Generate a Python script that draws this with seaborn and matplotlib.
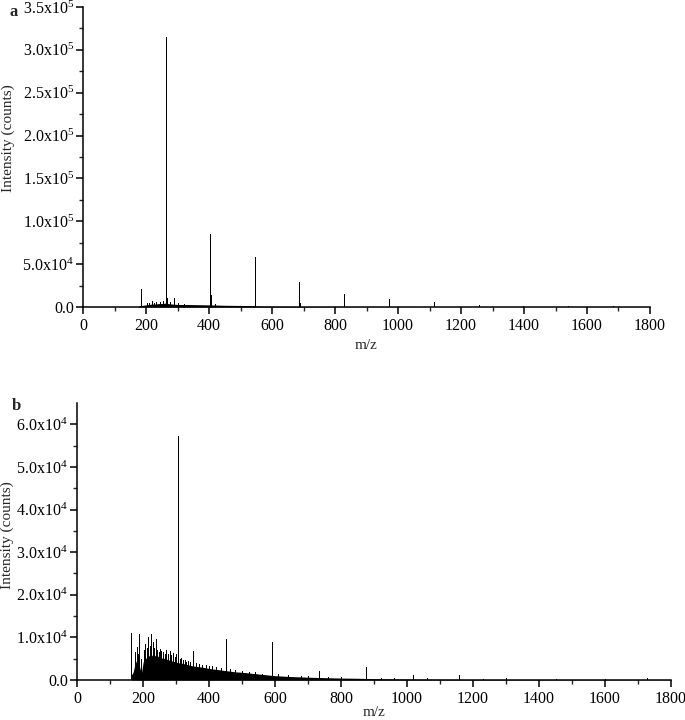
import numpy as np
import pandas as pd
import matplotlib
matplotlib.use("Agg")
import matplotlib.pyplot as plt
import seaborn as sns

# ---------------- data: panel a ----------------
a_peak_mz = [183, 202, 210, 218, 226, 233, 245, 253, 262, 264, 268, 275, 289, 300, 320,
             403, 405, 420, 545, 547, 687, 689, 830, 971, 1113, 1256, 1398, 1540, 1683]
a_peak_int = [21000, 5000, 4500, 6500, 5000, 5500, 6000, 7000, 315000, 33000, 10000, 6000, 11000, 4500, 4000,
              85000, 14000, 4000, 58000, 40000, 29500, 5000, 15500, 9000, 5500, 2500, 1500, 1200, 800]
a_env_mz = [175, 180, 190, 200, 210, 220, 230, 240, 250, 260, 270, 280, 300, 350, 400, 450, 500,
            540, 560, 600, 700, 800, 900, 1000, 1200, 1800]
a_env_int = [500, 1500, 2000, 2500, 3000, 3500, 3500, 4000, 4000, 4500, 4000, 3500, 3000, 2800, 2500,
             2000, 1800, 1500, 1000, 800, 500, 300, 200, 100, 50, 30]
a_yticks = [0, 50000, 100000, 150000, 200000, 250000, 300000, 350000]
a_ylabels = ["0.0", "5.0x10$^{4}$", "1.0x10$^{5}$", "1.5x10$^{5}$", "2.0x10$^{5}$",
             "2.5x10$^{5}$", "3.0x10$^{5}$", "3.5x10$^{5}$"]

# ---------------- data: panel b ----------------
b_peak_mz = [165, 177, 181, 184, 189, 193, 203, 207, 212, 216, 220, 225, 229, 233, 238, 242, 247,
             251, 256, 261, 266, 271, 276, 281, 286, 291, 296, 301, 307, 311, 316, 321, 326, 331,
             336, 341, 352, 360, 370, 380, 390, 400, 410, 420, 435, 450, 465, 480, 500, 520, 540,
             560, 591, 610, 640, 680, 700, 732, 760, 800, 876, 920, 960, 1017, 1060, 1158, 1230,
             1300, 1450, 1600, 1728]
b_peak_int = [11000, 6500, 7800, 6000, 10700, 5000, 7000, 8500, 7500, 10000, 8000, 10800, 9000, 7500,
              9600, 7000, 6500, 7200, 6800, 6500, 6000, 7000, 6200, 6800, 5800, 6300, 5500, 6000,
              57200, 5000, 5200, 4600, 4800, 4300, 4500, 4100, 6800, 4000, 3800, 3600, 3500, 3200,
              3300, 3000, 2900, 9600, 2500, 2300, 2100, 1900, 1800, 1500, 9000, 1300, 1100, 900,
              900, 2000, 700, 600, 3000, 500, 400, 1200, 400, 1200, 300, 400, 300, 250, 400]
b_env_mz = [165, 170, 175, 180, 185, 190, 195, 200, 205, 210, 215, 220, 225, 230, 235, 240, 245,
            250, 255, 260, 265, 270, 275, 280, 290, 300, 310, 320, 330, 340, 350, 360, 380, 400,
            420, 440, 460, 480, 500, 525, 550, 575, 600, 625, 650, 700, 750, 800, 850, 900, 950,
            1000, 1100, 1200, 1400, 1600, 1800]
b_env_int = [1200, 1800, 3500, 4500, 5000, 3000, 1500, 4000, 5500, 5000, 6000, 5500, 6000, 5500, 5800,
             5500, 5600, 5200, 5300, 5000, 5100, 4800, 4900, 4600, 4400, 4200, 4000, 3900, 3700,
             3500, 3300, 3200, 3000, 2700, 2500, 2300, 2100, 1900, 1800, 1600, 1400, 1200, 1000,
             900, 800, 650, 550, 450, 400, 300, 250, 200, 150, 120, 100, 80, 60]
b_yticks = [0, 10000, 20000, 30000, 40000, 50000, 60000]
b_ylabels = ["0.0", "1.0x10$^{4}$", "2.0x10$^{4}$", "3.0x10$^{4}$", "4.0x10$^{4}$",
             "5.0x10$^{4}$", "6.0x10$^{4}$"]

x_ticks = [0, 200, 400, 600, 800, 1000, 1200, 1400, 1600, 1800]

# ---------------- style ----------------
sns.set_theme(style="ticks")
plt.rcParams["font.family"] = ["Liberation Serif", "DejaVu Serif"]
plt.rcParams["mathtext.default"] = "regular"
plt.rcParams["axes.linewidth"] = 1.1


def sticks(mz, inten):
    xs, ys = [], []
    for m, h in sorted(zip(mz, inten)):
        xs += [m, m, m]
        ys += [0, h, 0]
    return pd.DataFrame({"mz": xs, "int": ys})


def draw(ax, pk_mz, pk_int, env_mz, env_int, yticks, ylabels, ytop, yminor, xlab_y, ylab_xy):
    ax.fill_between(env_mz, env_int, 0, color="black", lw=0)
    df = sticks(pk_mz, pk_int)
    sns.lineplot(data=df, x="mz", y="int", sort=False, estimator=None,
                 color="black", lw=0.7, ax=ax)
    ax.set_xlim(0, 1800)
    ax.set_ylim(0, ytop)
    ax.set_xticks(x_ticks)
    ax.set_xticklabels([str(t) for t in x_ticks])
    ax.set_xticks(np.arange(100, 1800, 200), minor=True)
    ax.set_yticks(yticks)
    ax.set_yticklabels(ylabels)
    ax.set_yticks(yminor, minor=True)
    ax.tick_params(axis="both", which="major", direction="out", length=5, width=1.1,
                   labelsize=11.5, colors="black", pad=3)
    ax.tick_params(axis="y", which="major", pad=1.5)
    ax.tick_params(axis="both", which="minor", direction="out", length=3, width=1.0)
    ax.set_xlabel("m/z", fontsize=11)
    ax.set_ylabel("Intensity (counts)", fontsize=11)
    ax.xaxis.set_label_coords(0.5, xlab_y)
    ax.yaxis.set_label_coords(*ylab_xy)
    for s in ["top", "right"]:
        ax.spines[s].set_visible(False)
    for s in ["left", "bottom"]:
        ax.spines[s].set_color("black")


fig = plt.figure(figsize=(6.85, 7.2), dpi=100)
ax_a = fig.add_axes([0.1212, 0.5736, 0.8277, 0.4167])
ax_b = fig.add_axes([0.1124, 0.0556, 0.8672, 0.3847])

draw(ax_a, a_peak_mz, a_peak_int, a_env_mz, a_env_int, a_yticks, a_ylabels, 350000,
     np.arange(25000, 350000, 50000), -0.107, (-0.12, 0.563))
draw(ax_b, b_peak_mz, b_peak_int, b_env_mz, b_env_int, b_yticks, b_ylabels, 65000,
     np.arange(5000, 65000, 10000), -0.094, (-0.106, 0.523))

fig.text(10 / 685, 1 - 12 / 720, "a", fontsize=12, fontweight="bold", va="center", ha="left")
fig.text(12 / 685, 1 - 406 / 720, "b", fontsize=12, fontweight="bold", va="center", ha="left")

fig.savefig("out.png", dpi=100)
